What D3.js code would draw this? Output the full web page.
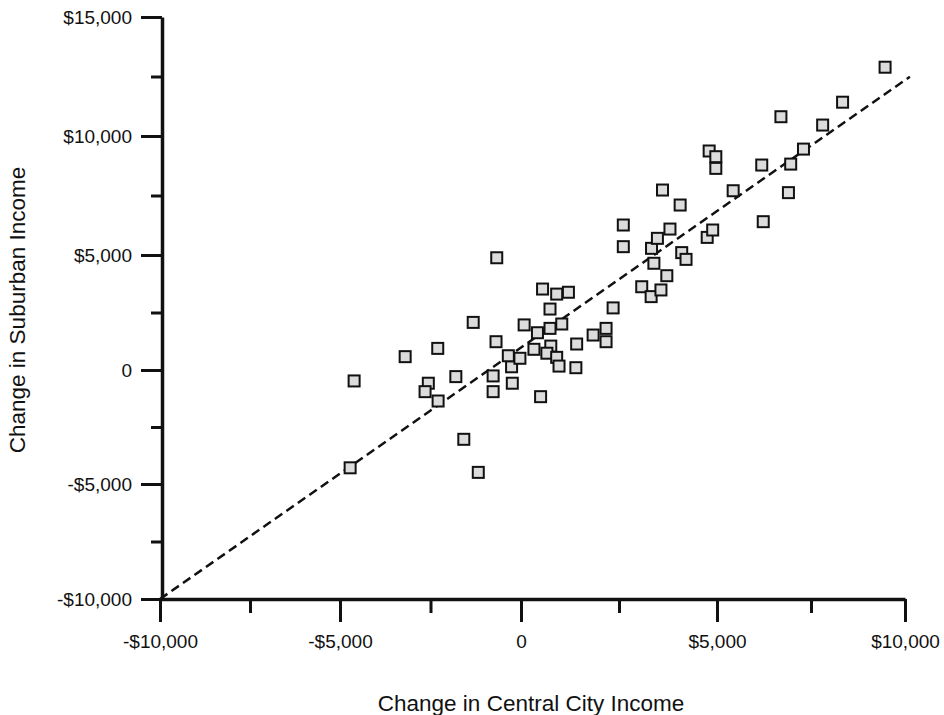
<!DOCTYPE html>
<html>
<head>
<meta charset="utf-8">
<script src="https://cdn.jsdelivr.net/npm/d3@7"></script>
<style>
  body { margin: 0; background: #fff; }
  text { font-family: "Liberation Sans", Arial, sans-serif; fill: #111; }
</style>
</head>
<body>
<svg id="chart" width="944" height="715"></svg>
<script>
// Change in central city income (x) vs change in suburban income (y)
const cityChange = [-4720, -4610, -3200, -2300, -1320, -670, -2560, -2650, -2290, -1800,
  -1580, -1180, -770, -770, -690, -260, -240, -350, -30, 80,
  420, 550, 910, 1210, 740, 740, 1040, 330, 760, 660,
  910, 970, 1400, 1420, 500, 1840, 2170, 2170, 2350, 2610,
  2610, 3080, 3320, 3570, 3390, 3720, 3330, 3480, 3800, 3610,
  4060, 4100, 4210, 4750, 4890, 4800, 4970, 4970, 5430, 6190,
  6230, 6900, 6960, 7300, 6700, 7810, 8340, 9470];
const suburbChange = [-4290, -480, 580, 940, 2070, 4880, -580, -950, -1360, -290,
  -3040, -4490, -260, -950, 1230, 140, -580, 620, 510, 1960,
  1620, 3520, 3300, 3380, 2650, 1810, 2000, 900, 1040, 730,
  550, 170, 100, 1130, -1170, 1520, 1810, 1230, 2700, 6260,
  5350, 3620, 3190, 3480, 4640, 4100, 5280, 5700, 6090, 7730,
  7100, 5100, 4810, 5740, 6050, 9370, 9130, 8640, 7700, 8780,
  6400, 7620, 8820, 9450, 10810, 10460, 11420, 12890];

// fitted line end points
const fitX = [-10000, 10130];
const fitY = [-10000, 12490];

const xTicks = [-10000, -5000, 0, 5000, 10000];
const xTickLabels = ["-$10,000", "-$5,000", "0", "$5,000", "$10,000"];
const xMinor = [-7500, -2500, 2500, 7500];
const yTicks = [-10000, -5000, 0, 5000, 10000, 15000];
const yTickLabels = ["-$10,000", "-$5,000", "0", "$5,000", "$10,000", "$15,000"];
const yMinor = [-7500, -2500, 2500, 7500, 12500];

const svg = d3.select("#chart");

// the scanned original is slightly uneven, so map each labelled tick to its place
const x = d3.scaleLinear().domain(xTicks).range([160, 340, 521, 717, 905]);
const y = d3.scaleLinear().domain(yTicks).range([599, 484, 370, 255, 136, 17]);

const axisX = 599, axisY = 162;

// minor ticks
svg.append("g")
  .attr("transform", `translate(0,${axisX})`)
  .call(d3.axisBottom(x).tickValues(xMinor).tickSize(14).tickSizeOuter(0).tickFormat(""))
  .call(g => g.select(".domain").remove());
svg.append("g")
  .attr("transform", `translate(${axisY},0)`)
  .call(d3.axisLeft(y).tickValues(yMinor).tickSize(11).tickSizeOuter(0).tickFormat(""))
  .call(g => g.select(".domain").remove());

// major ticks + labels
svg.append("g")
  .attr("transform", `translate(0,${axisX})`)
  .call(d3.axisBottom(x).tickValues(xTicks).tickSize(23).tickSizeOuter(0).tickPadding(13)
    .tickFormat((d, i) => xTickLabels[i]));
svg.append("g")
  .attr("transform", `translate(${axisY},0)`)
  .call(d3.axisLeft(y).tickValues(yTicks).tickSize(21).tickSizeOuter(0).tickPadding(9)
    .tickFormat((d, i) => yTickLabels[i]));

svg.selectAll(".tick line").attr("stroke", "#111").attr("stroke-width", 3);
svg.selectAll(".domain").attr("stroke", "#111").attr("stroke-width", 3.5);
svg.selectAll(".tick text").attr("font-size", 19).attr("fill", "#111")
  .style("font-family", "'Liberation Sans', Arial, sans-serif");

// dashed fit line
svg.append("line")
  .attr("x1", x(fitX[0])).attr("y1", y(fitY[0]))
  .attr("x2", x(fitX[1])).attr("y2", y(fitY[1]))
  .attr("stroke", "#111")
  .attr("stroke-width", 2.5)
  .attr("stroke-dasharray", "9,5");

// square markers
const s = 11;
svg.append("g").selectAll("rect")
  .data(d3.range(cityChange.length))
  .enter().append("rect")
  .attr("x", i => x(cityChange[i]) - s / 2)
  .attr("y", i => y(suburbChange[i]) - s / 2)
  .attr("width", s)
  .attr("height", s)
  .attr("fill", "#dcdcdc")
  .attr("stroke", "#111")
  .attr("stroke-width", 2);

// axis titles
svg.append("text")
  .attr("x", 531).attr("y", 711)
  .attr("text-anchor", "middle")
  .attr("font-size", 22.5)
  .text("Change in Central City Income");
svg.append("text")
  .attr("transform", "translate(25,310) rotate(-90)")
  .attr("text-anchor", "middle")
  .attr("font-size", 22.5)
  .text("Change in Suburban Income");
</script>
</body>
</html>
